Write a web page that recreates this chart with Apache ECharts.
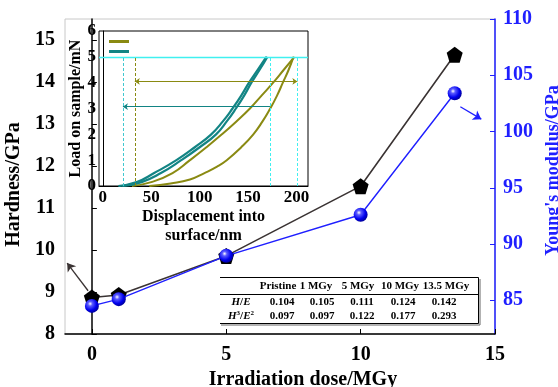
<!DOCTYPE html>
<html><head><meta charset="utf-8">
<script src="https://cdn.jsdelivr.net/npm/echarts@6/dist/echarts.min.js"></script>
<style>html,body{margin:0;padding:0;background:#fff}#c{width:558px;height:387px}</style>
</head><body><div id="c"></div>
<script>
// ---- main chart data ----
const doses = [0, 1, 5, 10, 13.5];
const hardness = [8.87, 8.93, 9.86, 11.52, 14.65];
const youngs = [84.5, 85.1, 88.95, 92.6, 103.4];
// annotation arrows (data coordinates)
const hardArrow = [[-0.14, 9.03], [-0.92, 9.69]];
const youngArrow = [[13.71, 102.2], [14.49, 101.1]];

// ---- inset (load-displacement) data ----
const oliveLoad = [[30,0],[50,0.15],[72,0.5],[90,1],[107,1.5],[123,2],[138,2.5],[152,3],[164,3.5],[176,4],[187,4.5],[198,5]];
const oliveUnload = [[48,0],[70,0.1],[90,0.25],[105,0.5],[118,0.75],[128,1],[143,1.5],[155.5,2],[165,2.5],[173,3],[180,3.5],[186,4],[192,4.5],[197,5]];
const tealLoad = [[16,0],[35,0.15],[53,0.5],[76,1],[95,1.5],[112,2],[124,2.5],[134,3],[143,3.5],[151,4],[160,4.5],[169,5]];
const tealUnload = [[20,0],[40,0.15],[60,0.5],[81,1],[100,1.5],[117,2],[128,2.5],[137.5,3],[146,3.5],[153.5,4],[162,4.5],[170,5]];
const maxLoad = 5;
const oliveDepths = [33, 201];   // residual / max depth
const tealDepths = [20.7, 172.7];
const oliveArrowLoad = 4.05;
const tealArrowLoad = 3.07;

// ---- table data ----
const tableCols = ['Pristine', '1 MGy', '5 MGy', '10 MGy', '13.5 MGy'];
const hOverE = ['0.104', '0.105', '0.111', '0.124', '0.142'];
const h3OverE2 = ['0.097', '0.097', '0.122', '0.177', '0.293'];

const FONT = 'Liberation Serif';
const BLUE = '#1f1fff';
const OLIVE = '#8a8a12';
const TEAL = '#128484';
const CYAN = '#40f0f0';

const pentagon = 'path://M50,0 L97.55,34.55 L79.39,90.45 L20.61,90.45 L2.45,34.55 Z';
const sphere = new echarts.graphic.RadialGradient(0.38, 0.35, 0.65, [
  {offset: 0, color: '#ffffff'}, {offset: 0.25, color: '#5a5aff'}, {offset: 0.7, color: '#0000ee'}, {offset: 1, color: '#0000a0'}
]);

// table graphic
const headX = [278, 316, 358, 400, 446];
const valX = [282, 322, 362, 403, 444];
const rowX = 241;
const tStyle = {fontFamily: FONT, fontWeight: 'bold', fontSize: 11, fill: '#000'};
const tableEls = [
  {type: 'rect', shape: {x: 220, y: 277, width: 258, height: 46}, style: {fill: '#fff', stroke: null}, z: 50},
  {type: 'polyline', shape: {points: [[220, 277.5], [478.5, 277.5], [478.5, 323.5], [220, 323.5]]}, style: {stroke: '#000', lineWidth: 1, fill: null}, z: 51},
  {type: 'line', shape: {x1: 220, y1: 294.5, x2: 478.5, y2: 294.5}, style: {stroke: '#000', lineWidth: 1}, z: 51},
  {type: 'line', shape: {x1: 480, y1: 279, x2: 480, y2: 325}, style: {stroke: '#666', lineWidth: 1}, z: 51},
  {type: 'line', shape: {x1: 221, y1: 325, x2: 480, y2: 325}, style: {stroke: '#666', lineWidth: 1}, z: 51},
  {type: 'text', x: rowX, y: 302, style: {text: '{i|H}/{i|E}', align: 'center', verticalAlign: 'middle', font: 'bold 11px ' + FONT,
    rich: {i: {fontStyle: 'italic', fontWeight: 'bold', fontFamily: FONT, fontSize: 11}}}, z: 52},
  {type: 'text', x: rowX, y: 316, style: {text: '{i|H}{s|3}/{i|E}{s|2}', align: 'center', verticalAlign: 'middle', font: 'bold 11px ' + FONT,
    rich: {i: {fontStyle: 'italic', fontWeight: 'bold', fontFamily: FONT, fontSize: 11}, s: {fontSize: 7, fontWeight: 'bold', fontFamily: FONT, verticalAlign: 'top', padding: [0,0,5,0]}}}, z: 52}
];
tableCols.forEach((t, i) => {
  tableEls.push({type: 'text', x: headX[i], y: 286.5, style: Object.assign({text: t, align: 'center', verticalAlign: 'middle'}, tStyle), z: 52});
  tableEls.push({type: 'text', x: valX[i], y: 302, style: Object.assign({text: hOverE[i], align: 'center', verticalAlign: 'middle'}, tStyle), z: 52});
  tableEls.push({type: 'text', x: valX[i], y: 316, style: Object.assign({text: h3OverE2[i], align: 'center', verticalAlign: 'middle'}, tStyle), z: 52});
});

const chart = echarts.init(document.getElementById('c'), null, {renderer: 'canvas'});
const axisFont = {fontFamily: FONT, fontWeight: 'bold', fontSize: 20, color: '#000'};
const insetFont = {fontFamily: FONT, fontWeight: 'bold', fontSize: 16, color: '#000'};

chart.setOption({
  animation: false,
  backgroundColor: '#fff',
  legend: {
    show: true, orient: 'vertical', left: 104, top: 35, itemWidth: 20, itemHeight: 3, itemGap: 7,
    icon: 'rect', data: ['Pristine', '13.5 MGy'], formatter: () => '', textStyle: {fontSize: 4}, selectedMode: false, z: 30
  },
  grid: [
    {left: 65, right: 63, top: 19, bottom: 53, show: true, borderColor: '#c8c8c8', borderWidth: 1, backgroundColor: 'transparent', containLabel: false, outerBoundsMode: 'none'},
    {left: 99, top: 31, width: 209, height: 155, show: true, borderColor: '#000', borderWidth: 1, backgroundColor: '#fff', z: 20, containLabel: false, outerBoundsMode: 'none'}
  ],
  xAxis: [
    {gridIndex: 0, type: 'value', min: -1, max: 15, splitNumber: 3, minInterval: 5, maxInterval: 5,
     name: 'Irradiation dose/MGy', nameLocation: 'middle', nameGap: 35, nameTextStyle: Object.assign({}, axisFont, {padding: [0, 0, 0, 46]}),
     axisLine: {lineStyle: {color: '#000', width: 1.5}}, axisTick: {inside: true, length: 5, lineStyle: {color: '#000'}},
     axisLabel: Object.assign({}, axisFont, {margin: 11, showMinLabel: false}), splitLine: {show: false}},
    {gridIndex: 1, type: 'value', min: -4, max: 212, minInterval: 50, maxInterval: 50,
     name: 'Displacement into\nsurface/nm', nameLocation: 'middle', nameGap: 16, nameTextStyle: Object.assign({}, insetFont, {lineHeight: 19}),
     axisLine: {lineStyle: {color: '#000', width: 1}}, axisTick: {show: false},
     axisLabel: Object.assign({}, insetFont, {fontSize: 17, margin: 3, showMinLabel: false, showMaxLabel: false}), splitLine: {show: false}, z: 21}
  ],
  yAxis: [
    {gridIndex: 0, type: 'value', min: 8, max: 15.5, interval: 1,
     name: 'Hardness/GPa', nameLocation: 'middle', nameGap: 37, nameTextStyle: Object.assign({}, axisFont, {padding: [0, 16, 0, 0]}),
     axisLine: {show: true, lineStyle: {color: '#000', width: 1.5}}, axisTick: {inside: true, length: 5, lineStyle: {color: '#000'}},
     axisLabel: Object.assign({}, axisFont, {margin: 10, showMaxLabel: false}), splitLine: {show: false}},
    {gridIndex: 0, type: 'value', position: 'right', min: 82, max: 110, splitNumber: 5, minInterval: 5, maxInterval: 5,
     name: "Young's modulus/GPa", nameLocation: 'middle', nameGap: 43, nameTextStyle: Object.assign({}, axisFont, {color: BLUE, fontSize: 18, padding: [0, 0, 0, 12]}),
     axisLine: {show: true, lineStyle: {color: BLUE, width: 1.5}}, axisTick: {inside: true, length: 5, lineStyle: {color: BLUE}},
     axisLabel: Object.assign({}, axisFont, {color: BLUE, margin: 8, showMinLabel: false}), splitLine: {show: false}},
    {gridIndex: 1, type: 'value', min: 0, max: 6, interval: 1,
     name: 'Load on sample/mN', nameLocation: 'middle', nameGap: 13, nameTextStyle: insetFont,
     axisLine: {show: true, lineStyle: {color: '#000', width: 1}}, axisTick: {show: false},
     axisLabel: Object.assign({}, insetFont, {fontSize: 17, margin: 3}), splitLine: {show: false}, z: 21}
  ],
  series: [
    {name: 'Hardness', type: 'line', xAxisIndex: 0, yAxisIndex: 0, data: doses.map((d, i) => [d, hardness[i]]),
     symbol: pentagon, symbolSize: 16, lineStyle: {color: '#3a3333', width: 1.6}, itemStyle: {color: '#000'}, z: 5,
     markLine: {silent: true, symbol: ['none', 'arrow'], symbolSize: 8, label: {show: false},
       lineStyle: {color: '#3a3333', width: 1.3, type: 'solid'},
       data: [[{coord: hardArrow[0]}, {coord: hardArrow[1]}]]}},
    {name: 'Youngs', type: 'line', xAxisIndex: 0, yAxisIndex: 1, data: doses.map((d, i) => [d, youngs[i]]),
     symbol: 'circle', symbolSize: 14, lineStyle: {color: BLUE, width: 1.4}, itemStyle: {color: sphere}, z: 6,
     markLine: {silent: true, symbol: ['none', 'arrow'], symbolSize: 8, label: {show: false},
       lineStyle: {color: BLUE, width: 1.3, type: 'solid'},
       data: [[{coord: youngArrow[0]}, {coord: youngArrow[1]}]]}},
    {name: 'Pristine', type: 'line', xAxisIndex: 1, yAxisIndex: 2, data: oliveLoad, smooth: true, showSymbol: false,
     color: OLIVE, lineStyle: {color: OLIVE, width: 2}, z: 25,
     markLine: {silent: true, z: 30, symbol: ['none', 'none'], label: {show: false},
       data: [
         [{coord: [-4, maxLoad], lineStyle: {color: CYAN, width: 1.3, type: 'solid'}}, {coord: [212, maxLoad]}],
         [{coord: [oliveDepths[0], 0], lineStyle: {color: OLIVE, width: 1, type: [3, 2]}}, {coord: [oliveDepths[0], maxLoad]}],
         [{coord: [oliveDepths[1], 0], lineStyle: {color: CYAN, width: 1, type: [3, 2]}}, {coord: [oliveDepths[1], maxLoad]}],
         [{coord: [tealDepths[0], 0], lineStyle: {color: '#40c8d0', width: 1, type: [3, 2]}}, {coord: [tealDepths[0], maxLoad]}],
         [{coord: [tealDepths[1], 0], lineStyle: {color: CYAN, width: 1, type: [3, 2]}}, {coord: [tealDepths[1], maxLoad]}]
       ]}},
    {name: 'Pristine', type: 'line', xAxisIndex: 1, yAxisIndex: 2, data: oliveUnload, smooth: true, showSymbol: false,
     color: OLIVE, lineStyle: {color: OLIVE, width: 2}, z: 25,
     markLine: {silent: true, z: 30, symbol: ['arrow', 'arrow'], symbolSize: 5, label: {show: false},
       lineStyle: {color: OLIVE, width: 1, type: 'solid'},
       data: [[{coord: [oliveDepths[0], oliveArrowLoad]}, {coord: [oliveDepths[1], oliveArrowLoad]}]]}},
    {name: '13.5 MGy', type: 'line', xAxisIndex: 1, yAxisIndex: 2, data: tealLoad, smooth: true, showSymbol: false,
     color: TEAL, lineStyle: {color: TEAL, width: 2.2}, z: 26,
     markLine: {silent: true, z: 30, symbol: ['arrow', 'none'], symbolSize: 5, label: {show: false},
       lineStyle: {color: TEAL, width: 1, type: 'solid'},
       data: [[{coord: [tealDepths[0], tealArrowLoad]}, {coord: [tealDepths[1], tealArrowLoad]}]]}},
    {name: '13.5 MGy', type: 'line', xAxisIndex: 1, yAxisIndex: 2, data: tealUnload, smooth: true, showSymbol: false,
     color: TEAL, lineStyle: {color: TEAL, width: 2.2}, z: 26}
  ],
  graphic: tableEls
});
</script></body></html>
